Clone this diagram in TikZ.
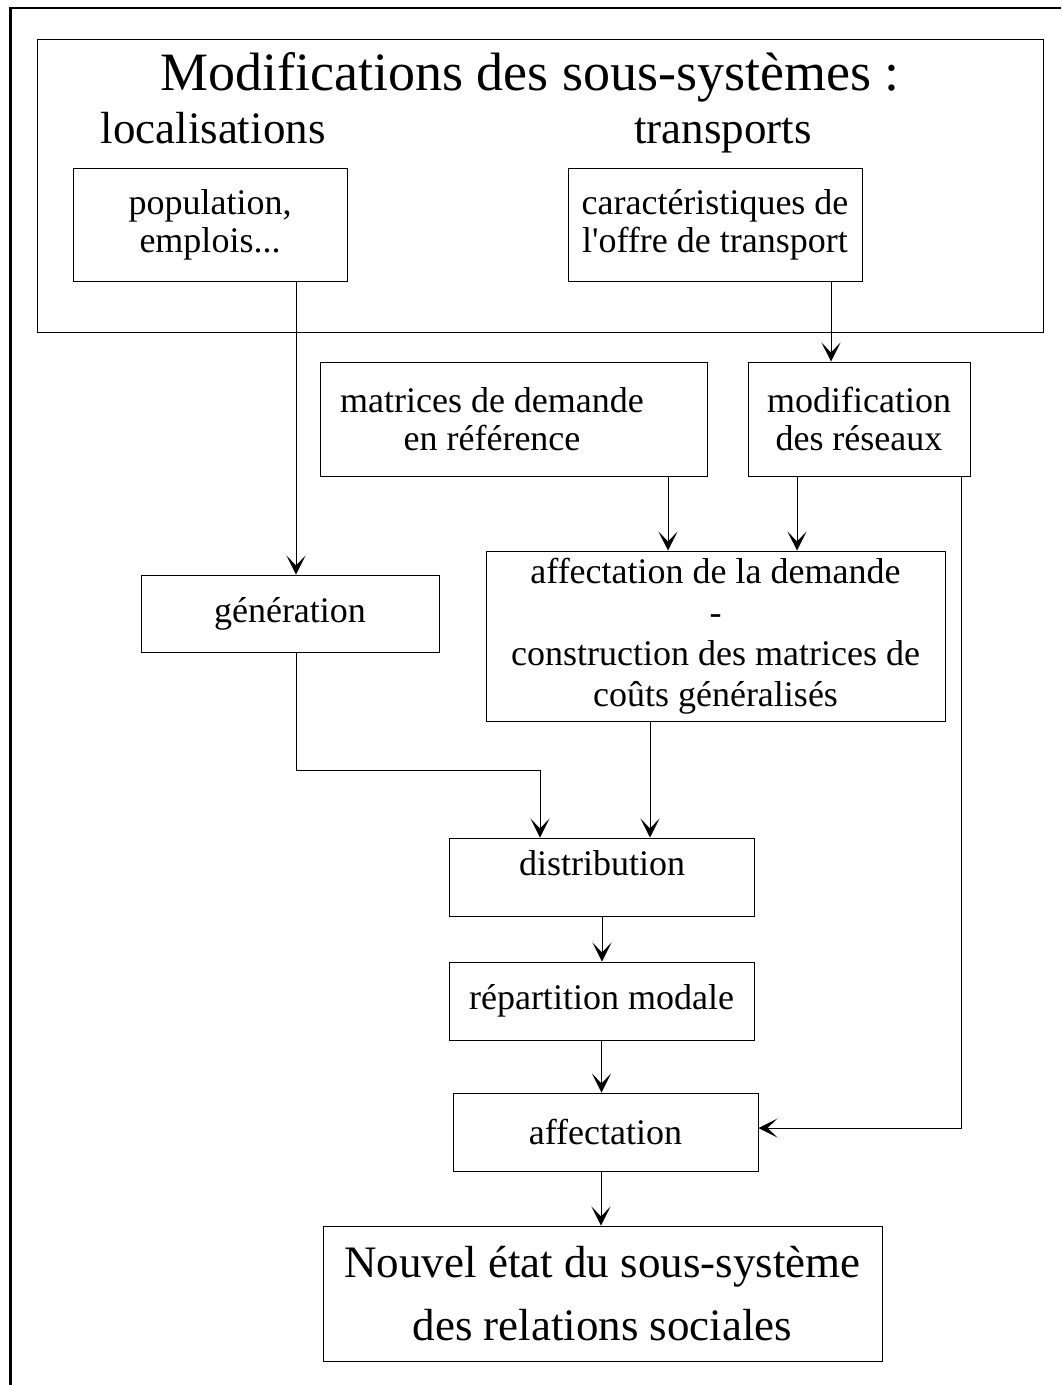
\documentclass[tikz,border=0pt]{standalone}
\usepackage{fontspec}
\setmainfont{Liberation Serif}
\usetikzlibrary{arrows.meta, positioning}

\begin{document}
\begin{tikzpicture}[x=1pt, y=-1pt,
		boite/.style={draw, line width=1pt, align=center, inner sep=0pt,
			font=\fontsize{36}{38}\selectfont},
		fleche/.style={-{Stealth[length=19pt, width=19pt, inset=10pt]}, line width=1pt},
		cadre/.style={line width=2.5pt}
		]
		\useasboundingbox (0,0) rectangle (1061,1385);
		\draw[cadre] (10.5,1385) -- (10.5,8) -- (1061,8);
		
		% sous-systemes
		\node[boite, minimum width=1006pt, minimum height=293pt] (sys) at (540,185.5) {};
		\node[anchor=base, font=\fontsize{54}{60}\selectfont] (titre) at (530,90) {Modifications des sous-systèmes :};
		\node[anchor=base, font=\fontsize{45}{50}\selectfont] (loc) at (213,143) {localisations};
		\node[anchor=base, font=\fontsize{45}{50}\selectfont] (tra) at (723,143) {transports};
		\node[boite, minimum width=274pt, minimum height=113pt] (pop) at (210,224.5) {population,\\emplois...};
		\node[boite, minimum width=294pt, minimum height=113pt] (car) at (715,224.5) {caractéristiques de\\l\textquotesingle offre de transport};
		
		\node[boite, minimum width=387pt, minimum height=114pt] (mat) at (513.5,419) {\hspace*{-43pt}matrices de demande\\\hspace*{-43pt}en référence};
		\node[boite, minimum width=222pt, minimum height=114pt] (mod) at (859,419) {modification\\des réseaux};
		\node[boite, minimum width=298pt, minimum height=77pt] (gen) at (290,613.5) {génération};
		\node[boite, minimum width=459pt, minimum height=170pt, font=\fontsize{36}{41}\selectfont] (aff) at (715.5,636) {affectation de la demande\\-\\construction des matrices de\\coûts généralisés};
		
		% chaine
		\node[boite, minimum width=305pt, minimum height=78pt, text depth=28pt] (dist) at (602,877) {distribution};
		\node[boite, minimum width=305pt, minimum height=78pt] (rep) at (601.5,1001) {répartition modale};
		\node[boite, minimum width=305pt, minimum height=78pt] (affect) at (605.5,1132) {affectation};
		\node[boite, minimum width=559pt, minimum height=135pt, font=\fontsize{45}{63}\selectfont] (nouvel) at (602.5,1293.5) {Nouvel état du sous-système\\des relations sociales};
		
		\coordinate (pg) at ([xshift=6pt]gen.north);
		\draw[fleche] (pg |- pop.south) -- (pg);
		\coordinate (cm) at ([xshift=116pt]car.south);
		\draw[fleche] (cm) -- (cm |- mod.north);
		\coordinate (ma) at ([xshift=154.5pt]mat.south);
		\draw[fleche] (ma) -- (ma |- aff.north);
		\coordinate (moa) at ([xshift=-62pt]mod.south);
		\draw[fleche] (moa) -- (moa |- aff.north);
		\coordinate (coude) at (540,770);
		\draw[fleche] ([xshift=6pt]gen.south) |- (coude) -- (coude |- dist.north);
		\coordinate (ad) at ([xshift=-65.5pt]aff.south);
		\draw[fleche] (ad) -- (ad |- dist.north);
		\draw[fleche] (dist.south) -- (dist.south |- rep.north);
		\draw[fleche] (rep.south) -- (rep.south |- affect.north);
		\coordinate (an) at ([xshift=-4.5pt]affect.south);
		\draw[fleche] (an) -- (an |- nouvel.north);
		\coordinate (mr) at ([xshift=102pt]mod.south);
		\draw[fleche] (mr) |- ([yshift=4pt]affect.east);
	\end{tikzpicture}
\end{document}
